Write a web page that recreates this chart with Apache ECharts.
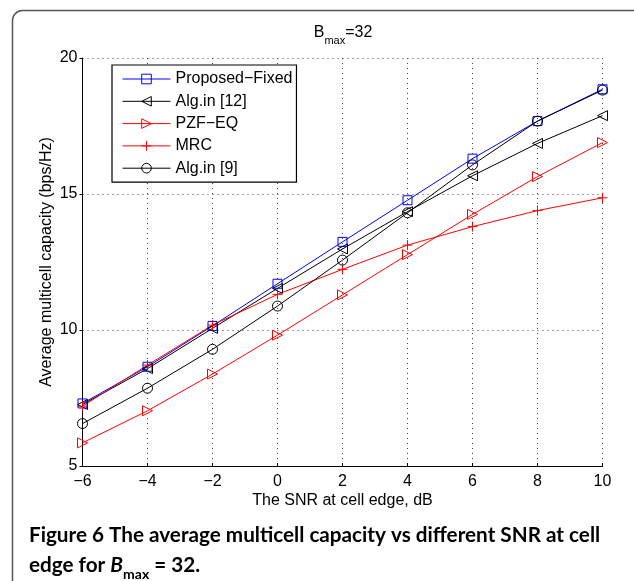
<!DOCTYPE html>
<html>
<head>
<meta charset="utf-8">
<script src="https://cdn.jsdelivr.net/npm/echarts@6/dist/echarts.min.js"></script>
<style>
  html, body { margin: 0; padding: 0; background: #fff; }
  #chart { width: 634px; height: 581px; }
</style>
</head>
<body>
<div id="chart"></div>
<script>
// SNR at cell edge (dB)
const snr = [-6, -4, -2, 0, 2, 4, 6, 8, 10]
const xTicks = [-6, -4, -2, 0, 2, 4, 6, 8, 10]
const yTicks = [5, 10, 15, 20]

// average multicell capacity (bps/Hz)
const proposedFixed = [7.3, 8.65, 10.15, 11.7, 13.24, 14.77, 16.3, 17.68, 18.85]
const algIn12 = [7.26, 8.58, 10.06, 11.53, 12.98, 14.35, 15.67, 16.86, 17.88]
const pzfEq = [5.85, 7.03, 8.38, 9.81, 11.29, 12.77, 14.25, 15.64, 16.89]
const mrc = [7.2, 8.71, 10.18, 11.31, 12.23, 13.12, 13.8, 14.39, 14.86]
const algIn9 = [6.56, 7.86, 9.29, 10.88, 12.57, 14.31, 16.07, 17.68, 18.82]

const seriesNames = ['Proposed\u2212Fixed', 'Alg.in [12]', 'PZF\u2212EQ', 'MRC', 'Alg.in [9]']

const FONT = 'Liberation Sans, Arial, Helvetica, sans-serif'
const CAP_FONT = 'Lato, sans-serif'

function makeSeries(name, values, color, symbol, size) {
  return {
    name: name,
    type: 'line',
    data: snr.map((x, i) => [x, values[i]]),
    symbol: symbol,
    symbolSize: size,
    showAllSymbol: true,
    lineStyle: { color: color, width: 1 },
    itemStyle: { color: 'rgba(0,0,0,0)', borderColor: color, borderWidth: 1 },
    emphasis: { disabled: true },
    silent: true
  }
}

const chart = echarts.init(document.getElementById('chart'), null, { renderer: 'canvas' })

chart.setOption({
  animation: false,
  backgroundColor: '#fff',
  title: {
    text: '{b|B}{s|max}{b|=32}',
    left: 343,
    top: 25,
    textAlign: 'center',
    padding: 0,
    textStyle: {
      fontWeight: 'normal',
      rich: {
        b: { fontFamily: FONT, fontWeight: 'normal', fontSize: 16, lineHeight: 18, color: '#000', verticalAlign: 'top' },
        s: { fontFamily: FONT, fontWeight: 'normal', fontSize: 11, lineHeight: 12, color: '#000', verticalAlign: 'top', padding: [10, 0, 0, 0] }
      }
    }
  },
  grid: { left: 82.5, right: 31.5, top: 58, bottom: 115 },
  legend: {
    orient: 'vertical',
    left: 112,
    top: 65,
    padding: [6, 4, 6, 10],
    itemGap: 6.3,
    itemWidth: 48,
    itemHeight: 12,
    borderColor: '#000',
    borderWidth: 1.2,
    backgroundColor: '#fff',
    selectedMode: false,
    data: seriesNames,
    lineStyle: { width: 1 },
    itemStyle: { borderWidth: 1 },
    textStyle: { fontFamily: FONT, fontSize: 16, lineHeight: 16, color: '#000' }
  },
  xAxis: {
    type: 'value',
    min: xTicks[0],
    max: xTicks[xTicks.length - 1],
    interval: 2,
    name: 'The SNR at cell edge, dB',
    nameLocation: 'middle',
    nameGap: 27,
    nameMoveOverlap: false,
    nameTextStyle: { fontFamily: FONT, fontSize: 16, color: '#000' },
    axisLine: { show: true, onZero: false, lineStyle: { color: '#000', width: 1 } },
    axisTick: { show: true, inside: true, length: 3, lineStyle: { color: '#000' } },
    axisLabel: {
      margin: 8,
      fontFamily: FONT, fontSize: 16, color: '#000',
      formatter: v => (v < 0 ? '\u2212' + Math.abs(v) : String(v))
    },
    splitLine: { show: true, lineStyle: { color: '#444', width: 1, type: [1, 4] } }
  },
  yAxis: {
    type: 'value',
    min: yTicks[0],
    max: yTicks[yTicks.length - 1],
    interval: 5,
    name: 'Average multicell capacity (bps/Hz)',
    nameLocation: 'middle',
    nameGap: 28,
    nameMoveOverlap: false,
    nameTextStyle: { fontFamily: FONT, fontSize: 16, color: '#000' },
    axisLine: { show: true, onZero: false, lineStyle: { color: '#000', width: 1 } },
    axisTick: { show: true, inside: false, length: 3, lineStyle: { color: '#000' } },
    axisLabel: { margin: 5, fontFamily: FONT, fontSize: 16, color: '#000' },
    splitLine: { show: true, lineStyle: { color: '#444', width: 1, type: [1, 4] } }
  },
  graphic: [
    {
      type: 'rect',
      silent: true,
      shape: { x: 12.5, y: 10.5, width: 700, height: 700, r: 10 },
      style: { fill: 'none', stroke: '#555', lineWidth: 1.5 }
    },
    {
      type: 'text',
      left: 29,
      top: 525,
      silent: true,
      style: {
        text: 'Figure 6 The average multicell capacity vs different SNR at cell',
        fontFamily: CAP_FONT,
        fontWeight: 'bold',
        fontSize: 20.7,
        fill: '#000'
      }
    },
    {
      type: 'text',
      left: 29,
      top: 555,
      silent: true,
      style: {
        text: '{n|edge for }{i|B}{s|max}{n| = 32.}',
        rich: {
          n: { fontFamily: CAP_FONT, fontWeight: 'bold', fontSize: 20.7, lineHeight: 24, verticalAlign: 'top', fill: '#000' },
          i: { fontFamily: CAP_FONT, fontWeight: 'bold', fontStyle: 'italic', fontSize: 20.7, lineHeight: 24, verticalAlign: 'top', fill: '#000' },
          s: { fontFamily: CAP_FONT, fontWeight: 'bold', fontSize: 14, lineHeight: 14, verticalAlign: 'top', padding: [12, 0, 0, 0], fill: '#000' }
        }
      }
    }
  ],
  series: [
    makeSeries(seriesNames[0], proposedFixed, '#0000ff', 'rect', 9),
    makeSeries(seriesNames[1], algIn12, '#000000', 'path://M10,0L0,5L10,10Z', 10),
    makeSeries(seriesNames[2], pzfEq, '#ff0000', 'path://M0,0L10,5L0,10Z', 10),
    makeSeries(seriesNames[3], mrc, '#ff0000', 'path://M5,0L5,10M0,5L10,5', 10),
    makeSeries(seriesNames[4], algIn9, '#000000', 'circle', 10)
  ]
})
</script>
</body>
</html>
